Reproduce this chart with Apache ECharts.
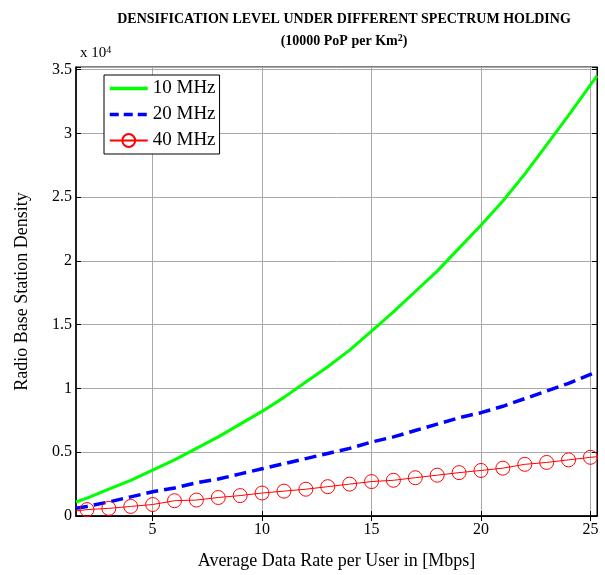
<!DOCTYPE html>
<html>
<head>
<meta charset="utf-8">
<script src="https://cdn.jsdelivr.net/npm/echarts@6/dist/echarts.min.js"></script>
<style>
  html, body { margin: 0; padding: 0; background: #fff; }
  #chart { width: 605px; height: 575px; }
</style>
</head>
<body>
<div id="chart"></div>
<script>
// values in units of 10^4 base stations
const xValues = [1.5, 2, 3, 4, 5, 6, 7, 8, 9, 10, 11, 12, 13, 14, 15, 16, 17, 18, 19, 20, 21, 22, 23, 24, 25, 25.3]
const mhz10 = [0.11, 0.14, 0.21, 0.28, 0.36, 0.44, 0.53, 0.62, 0.72, 0.82, 0.93, 1.05, 1.17, 1.30, 1.45,
               1.60, 1.76, 1.92, 2.10, 2.28, 2.47, 2.68, 2.91, 3.14, 3.38, 3.45]
const mhz20 = [0.06, 0.075, 0.11, 0.15, 0.19, 0.22, 0.26, 0.29, 0.33, 0.37, 0.41, 0.45, 0.49, 0.53, 0.58,
               0.62, 0.67, 0.72, 0.77, 0.81, 0.86, 0.92, 0.98, 1.04, 1.11, 1.13]
const mhz40 = [0.04, 0.05, 0.06, 0.075, 0.09, 0.12, 0.125, 0.145, 0.16, 0.18, 0.195, 0.21, 0.23, 0.25, 0.27,
               0.28, 0.30, 0.32, 0.34, 0.357, 0.375, 0.405, 0.42, 0.44, 0.46, 0.465]
const xTicks = [5, 10, 15, 20, 25]
const seriesNames = ['10 MHz', '20 MHz', '40 MHz']

const FONT = 'Liberation Serif'
const pairs = ys => xValues.map((x, i) => [x, ys[i]])
const noSymbol = { color: 'rgba(0,0,0,0)', borderWidth: 0 }

const chart = echarts.init(document.getElementById('chart'))

chart.setOption({
  animation: false,
  title: [
    {
      text: 'DENSIFICATION LEVEL UNDER DIFFERENT SPECTRUM HOLDING',
      left: 339, top: 7, textAlign: 'center',
      textStyle: { fontFamily: FONT, fontSize: 14, fontWeight: 'bold', color: '#000' },
    },
    {
      text: '{a|(10000 PoP per Km}{s|2}{a|)}',
      left: 339, top: 28, textAlign: 'center',
      textStyle: {
        rich: {
          a: { fontFamily: FONT, fontSize: 14, fontWeight: 'bold', color: '#000' },
          s: { fontFamily: FONT, fontSize: 10, fontWeight: 'bold', color: '#000', verticalAlign: 'top', padding: [0, 0, 6, 0] },
        },
      },
    },
    {
      text: '{a|x 10}{s|4}',
      left: 75, top: 40,
      textStyle: {
        rich: {
          a: { fontFamily: FONT, fontSize: 15, fontWeight: 'normal', color: '#000' },
          s: { fontFamily: FONT, fontSize: 10, fontWeight: 'normal', color: '#000', verticalAlign: 'top', padding: [0, 0, 7, 0] },
        },
      },
    },
  ],
  legend: {
    data: [
      { name: seriesNames[0], itemStyle: noSymbol, lineStyle: { width: 3.5 } },
      { name: seriesNames[1], itemStyle: noSymbol, lineStyle: { width: 3.5, type: [9, 5] } },
      { name: seriesNames[2] },
    ],
    orient: 'vertical',
    left: 104, top: 75,
    backgroundColor: '#fff',
    borderColor: '#000', borderWidth: 1,
    padding: [4, 4, 4, 4],
    itemGap: 7,
    itemWidth: 38, itemHeight: 16,
    textStyle: { fontFamily: FONT, fontSize: 19, color: '#000' },
  },
  grid: {
    left: 76, right: 8, top: 67, bottom: 55,
    show: true, borderColor: '#000', borderWidth: 1,
  },
  xAxis: [
    {
      type: 'value', min: 1.5, max: 25.3,
      name: 'Average Data Rate per User in [Mbps]',
      nameLocation: 'middle', nameGap: 36,
      nameTextStyle: { fontFamily: FONT, fontSize: 18, color: '#000' },
      axisLine: { show: true, lineStyle: { color: '#000', width: 1.5 } },
      axisTick: { show: true, inside: true, length: 5, customValues: xTicks, lineStyle: { color: '#000' } },
      axisLabel: { customValues: xTicks, fontFamily: FONT, fontSize: 16, color: '#000', margin: 6 },
      splitLine: { show: true, lineStyle: { color: '#a8a8a8', width: 1 } },
    },
    {
      type: 'value', min: 1.5, max: 25.3, position: 'top',
      axisLine: { show: true, lineStyle: { color: '#000' } },
      axisTick: { show: true, inside: true, length: 5, customValues: xTicks, lineStyle: { color: '#000' } },
      axisLabel: { show: false },
      splitLine: { show: false },
    },
  ],
  yAxis: [
    {
      type: 'value', min: 0, max: 3.52, interval: 0.5,
      name: 'Radio Base Station Density',
      nameLocation: 'middle', nameGap: 45,
      nameTextStyle: { fontFamily: FONT, fontSize: 18, color: '#000' },
      axisLine: { show: true, lineStyle: { color: '#000', width: 1.5 } },
      axisTick: { show: true, inside: true, length: 5, lineStyle: { color: '#000' } },
      axisLabel: {
        fontFamily: FONT, fontSize: 16, color: '#000', margin: 4,
        formatter: v => (Math.abs(v * 2 - Math.round(v * 2)) < 1e-6 ? String(v) : ''),
      },
      splitLine: { show: true, lineStyle: { color: '#a8a8a8', width: 1 } },
    },
    {
      type: 'value', min: 0, max: 3.52, interval: 0.5, position: 'right',
      axisLine: { show: true, lineStyle: { color: '#000' } },
      axisTick: { show: true, inside: true, length: 5, lineStyle: { color: '#000' } },
      axisLabel: { show: false },
      splitLine: { show: false },
    },
  ],
  series: [
    {
      name: '10 MHz', type: 'line',
      data: pairs(mhz10),
      symbol: 'none',
      lineStyle: { color: '#00ff00', width: 3 },
      itemStyle: { color: '#00ff00' },
      z: 3,
    },
    {
      name: '20 MHz', type: 'line',
      data: pairs(mhz20),
      symbol: 'none',
      lineStyle: { color: '#0000ff', width: 3.5, type: [12, 6] },
      itemStyle: { color: '#0000ff' },
      z: 3,
    },
    {
      name: '40 MHz', type: 'line',
      // markers only at the integer rates
      data: xValues.map((x, i) => Number.isInteger(x)
        ? [x, mhz40[i]]
        : { value: [x, mhz40[i]], symbol: 'none' }),
      symbol: 'circle', symbolSize: 14,
      lineStyle: { color: '#ff0000', width: 1 },
      itemStyle: { color: 'rgba(0,0,0,0)', borderColor: '#ff0000', borderWidth: 1 },
      z: 3,
    },
  ],
})
</script>
</body>
</html>
